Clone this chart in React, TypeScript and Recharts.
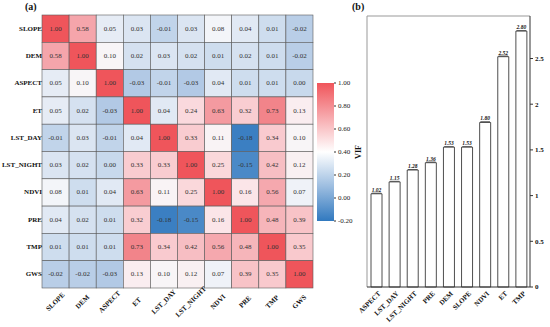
import {
  ScatterChart,
  Scatter,
  BarChart,
  Bar,
  XAxis,
  YAxis,
  CartesianGrid,
  LabelList,
} from "recharts";

const FONT = "'Liberation Serif', 'Times New Roman', serif";

const factors = ["SLOPE", "DEM", "ASPECT", "ET", "LST_DAY", "LST_NIGHT", "NDVI", "PRE", "TMP", "GWS"];

const corrSlope = [1.0, 0.58, 0.05, 0.03, -0.01, 0.03, 0.08, 0.04, 0.01, -0.02];
const corrDem = [0.58, 1.0, 0.1, 0.02, 0.03, 0.02, 0.01, 0.02, 0.01, -0.02];
const corrAspect = [0.05, 0.1, 1.0, -0.03, -0.01, -0.03, 0.04, 0.01, 0.01, 0.0];
const corrEt = [0.05, 0.02, -0.03, 1.0, 0.04, 0.24, 0.63, 0.32, 0.73, 0.13];
const corrLstDay = [-0.01, 0.03, -0.01, 0.04, 1.0, 0.33, 0.11, -0.18, 0.34, 0.1];
const corrLstNight = [0.03, 0.02, 0.0, 0.33, 0.33, 1.0, 0.25, -0.15, 0.42, 0.12];
const corrNdvi = [0.08, 0.01, 0.04, 0.63, 0.11, 0.25, 1.0, 0.16, 0.56, 0.07];
const corrPre = [0.04, 0.02, 0.01, 0.32, -0.18, -0.15, 0.16, 1.0, 0.48, 0.39];
const corrTmp = [0.01, 0.01, 0.01, 0.73, 0.34, 0.42, 0.56, 0.48, 1.0, 0.35];
const corrGws = [-0.02, -0.02, -0.03, 0.13, 0.1, 0.12, 0.07, 0.39, 0.35, 1.0];

const matrixRows = [corrSlope, corrDem, corrAspect, corrEt, corrLstDay, corrLstNight, corrNdvi, corrPre, corrTmp, corrGws];

const colorbarTicks = [-0.2, 0, 0.2, 0.4, 0.6, 0.8, 1.0];

const vifNames = ["ASPECT", "LST_DAY", "LST_NIGHT", "PRE", "DEM", "SLOPE", "NDVI", "ET", "TMP"];
const vifValues = [1.02, 1.15, 1.28, 1.36, 1.53, 1.53, 1.8, 2.52, 2.8];
const vifTicks = [0, 0.5, 1, 1.5, 2, 2.5];

// heatmap layout
const HM_W = 320;
const HM_H = 327;
const HM_M = { top: 15, right: 7, bottom: 0, left: 0 };
const HM_YAXIS_W = 42;
const HM_XAXIS_H = 39;
const N = factors.length;
const CELL_W = (HM_W - HM_M.left - HM_M.right - HM_YAXIS_W) / N;
const CELL_H = (HM_H - HM_M.top - HM_M.bottom - HM_XAXIS_H) / N;

const cells = matrixRows.flatMap((row, i) =>
  row.map((v, j) => ({ x: j + 0.5, y: i + 0.5, v }))
);
const centerTicks = factors.map((_, i) => i + 0.5);

const vifData = vifNames.map((name, i) => ({ name, vif: vifValues[i] }));

// colour stops picked from the cells
const stops: [number, number[]][] = [
  [-0.2, [49, 121, 191]],
  [-0.15, [74, 137, 199]],
  [-0.03, [178, 201, 229]],
  [0.0, [200, 217, 236]],
  [0.04, [225, 233, 244]],
  [0.09, [248, 248, 250]],
  [0.16, [251, 229, 232]],
  [0.33, [249, 204, 208]],
  [0.48, [246, 181, 186]],
  [0.58, [245, 165, 171]],
  [0.73, [242, 132, 138]],
  [1.0, [239, 85, 91]],
];

function cellColor(v: number) {
  if (v <= stops[0][0]) return `rgb(${stops[0][1].join(",")})`;
  for (let k = 1; k < stops.length; k++) {
    const [v1, c1] = stops[k];
    const [v0, c0] = stops[k - 1];
    if (v <= v1) {
      const t = (v - v0) / (v1 - v0);
      const c = c0.map((a, idx) => Math.round(a + (c1[idx] - a) * t));
      return `rgb(${c.join(",")})`;
    }
  }
  return `rgb(${stops[stops.length - 1][1].join(",")})`;
}

const HeatCell = (props: any) => {
  const { cx, cy, payload } = props;
  if (cx == null || cy == null) return null;
  return (
    <g>
      <rect
        x={cx - CELL_W / 2}
        y={cy - CELL_H / 2}
        width={CELL_W}
        height={CELL_H}
        fill={cellColor(payload.v)}
        stroke="#5a5a5a"
        strokeWidth={0.6}
      />
      <text
        x={cx}
        y={cy}
        textAnchor="middle"
        dominantBaseline="central"
        fontSize={7}
        fontFamily={FONT}
        fill="#333"
      >
        {payload.v.toFixed(2)}
      </text>
    </g>
  );
};

const HeatXTick = (props: any) => {
  const { x, y, payload } = props;
  const label = factors[Math.floor(payload.value)];
  const ty = y + 6;
  return (
    <text
      x={x}
      y={ty}
      transform={`rotate(-45, ${x}, ${ty})`}
      textAnchor="middle"
      dominantBaseline="central"
      fontSize={7}
      fontWeight="bold"
      fontFamily={FONT}
      fill="#111"
    >
      {label}
    </text>
  );
};

const HeatYTick = (props: any) => {
  const { x, y, payload } = props;
  const label = factors[Math.floor(payload.value)];
  return (
    <text
      x={x + 8}
      y={y}
      textAnchor="end"
      dominantBaseline="central"
      fontSize={7}
      fontWeight="bold"
      fontFamily={FONT}
      fill="#111"
    >
      {label}
    </text>
  );
};

const BarXTick = (props: any) => {
  const { x, y, payload } = props;
  const ax = x + 5;
  const ay = y - 1;
  return (
    <text
      x={ax}
      y={ay}
      transform={`rotate(-45, ${ax}, ${ay})`}
      textAnchor="end"
      fontSize={7}
      fontWeight="bold"
      fontFamily={FONT}
      fill="#111"
    >
      {payload.value}
    </text>
  );
};

const BarValueLabel = (props: any) => {
  const { x, y, width, value } = props;
  return (
    <text
      x={x + width / 2}
      y={y - 2}
      textAnchor="middle"
      fontSize={5.5}
      fontStyle="italic"
      fontWeight="bold"
      fontFamily={FONT}
      fill="#111"
      textDecoration="underline"
    >
      {Number(value).toFixed(2)}
    </text>
  );
};

const VifAxisLabel = (props: any) => {
  const { viewBox } = props;
  const lx = viewBox.x + 24;
  const ly = viewBox.y + viewBox.height / 2;
  return (
    <text
      x={lx}
      y={ly}
      transform={`rotate(-90, ${lx}, ${ly})`}
      textAnchor="middle"
      dominantBaseline="central"
      fontSize={8}
      fontWeight="bold"
      fontFamily={FONT}
      fill="#111"
    >
      VIF
    </text>
  );
};

const colorbarData = [{ name: "cb", range: [-0.2, 1.0] }];

export default function App() {
  return (
    <div
      style={{
        position: "absolute",
        left: 0,
        top: 0,
        width: 550,
        height: 327,
        background: "#fff",
        fontFamily: FONT,
        overflow: "hidden",
      }}
    >
      <div style={{ position: "absolute", left: 0, top: 0 }}>
        <ScatterChart width={HM_W} height={HM_H} margin={HM_M}>
          <XAxis
            type="number"
            dataKey="x"
            domain={[0, N]}
            ticks={centerTicks}
            height={HM_XAXIS_H}
            axisLine={false}
            tickLine={false}
            tick={<HeatXTick />}
            interval={0}
          />
          <YAxis
            type="number"
            dataKey="y"
            domain={[0, N]}
            reversed
            ticks={centerTicks}
            width={HM_YAXIS_W}
            axisLine={false}
            tickLine={false}
            tick={<HeatYTick />}
            interval={0}
          />
          <Scatter data={cells} shape={<HeatCell />} isAnimationActive={false} />
        </ScatterChart>
      </div>

      <div style={{ position: "absolute", left: 300, top: 0 }}>
        <BarChart
          width={70}
          height={327}
          data={colorbarData}
          margin={{ top: 83, right: 0, bottom: 106, left: 17 }}
          barCategoryGap={0}
        >
          <defs>
            <linearGradient id="cbGrad" x1="0" y1="0" x2="0" y2="1">
              <stop offset="0%" stopColor="#f0555b" />
              <stop offset="25%" stopColor="#f7aaae" />
              <stop offset="50%" stopColor="#ffffff" />
              <stop offset="75%" stopColor="#9cbde0" />
              <stop offset="100%" stopColor="#3179bf" />
            </linearGradient>
          </defs>
          <XAxis dataKey="name" hide />
          <YAxis
            orientation="right"
            domain={[-0.2, 1.0]}
            ticks={colorbarTicks}
            tickFormatter={(v: number) => v.toFixed(2)}
            width={36}
            axisLine={false}
            tickSize={2}
            tickLine={{ stroke: "#333" }}
            tick={{ fontSize: 7, fill: "#222", fontFamily: FONT }}
            interval={0}
            label={<VifAxisLabel />}
          />
          <Bar dataKey="range" fill="url(#cbGrad)" isAnimationActive={false} />
        </BarChart>
      </div>

      <div style={{ position: "absolute", left: 300, top: 0 }}>
        <BarChart
          width={250}
          height={327}
          data={vifData}
          margin={{ top: 16, right: 0, bottom: 0, left: 67 }}
        >
          <CartesianGrid
            stroke="#999"
            strokeWidth={1}
            horizontalCoordinatesGenerator={({ offset }: any) => [offset.top]}
            verticalCoordinatesGenerator={({ offset }: any) => [offset.left]}
          />
          <XAxis
            dataKey="name"
            height={40}
            interval={0}
            tickLine={false}
            axisLine={{ stroke: "#333" }}
            tick={<BarXTick />}
          />
          <YAxis
            orientation="right"
            domain={[0, 2.965]}
            ticks={vifTicks}
            width={20}
            interval={0}
            tickSize={3}
            axisLine={{ stroke: "#333" }}
            tickLine={{ stroke: "#333" }}
            tick={{ fontSize: 7, fontWeight: "bold", fill: "#111", fontFamily: FONT }}
          />
          <Bar dataKey="vif" fill="#fff" stroke="#222" strokeWidth={0.8} barSize={11} isAnimationActive={false}>
            <LabelList dataKey="vif" content={<BarValueLabel />} />
          </Bar>
        </BarChart>
      </div>

      <div style={{ position: "absolute", left: 25, top: 1, fontSize: 10, fontWeight: "bold", color: "#111" }}>(a)</div>
      <div style={{ position: "absolute", left: 352, top: 1, fontSize: 10, fontWeight: "bold", color: "#111" }}>(b)</div>
    </div>
  );
}
